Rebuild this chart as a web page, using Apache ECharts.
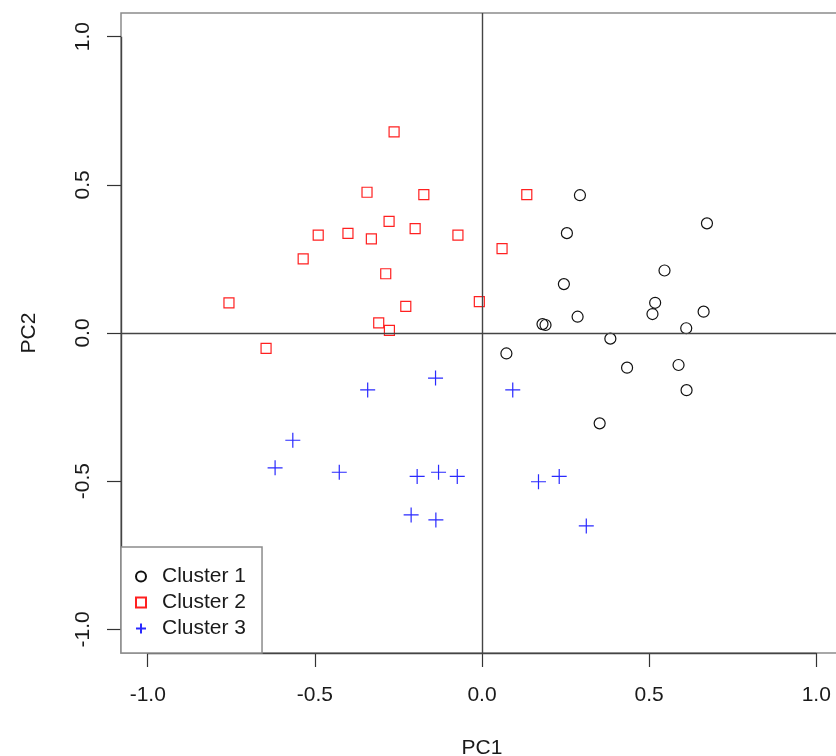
<!DOCTYPE html>
<html>
<head>
<meta charset="utf-8">
<script src="https://cdn.jsdelivr.net/npm/echarts@6/dist/echarts.min.js"></script>
<style>
html,body{margin:0;padding:0;background:#fff;}
#chart{width:836px;height:756px;}
</style>
</head>
<body>
<div id="chart"></div>
<script>
// Data
const cluster1 = [
  [0.293, 0.465], [0.673, 0.370], [0.254, 0.337], [0.546, 0.211], [0.245, 0.165],
  [0.518, 0.102], [0.510, 0.064], [0.663, 0.072], [0.286, 0.055], [0.181, 0.030],
  [0.190, 0.027], [0.611, 0.016], [0.384, -0.019], [0.073, -0.069], [0.434, -0.117],
  [0.588, -0.108], [0.612, -0.193], [0.352, -0.305]
];
const cluster2 = [
  [-0.263, 0.679], [-0.344, 0.475], [-0.174, 0.467], [0.134, 0.467], [-0.278, 0.377],
  [-0.490, 0.330], [-0.401, 0.336], [-0.331, 0.318], [-0.200, 0.352], [-0.072, 0.330],
  [0.060, 0.285], [-0.535, 0.250], [-0.288, 0.200], [-0.757, 0.102], [-0.228, 0.090],
  [-0.008, 0.106], [-0.309, 0.034], [-0.277, 0.009], [-0.646, -0.052]
];
const cluster3 = [
  [-0.139, -0.152], [-0.342, -0.192], [0.092, -0.192], [-0.566, -0.362], [-0.619, -0.455],
  [-0.427, -0.470], [-0.194, -0.484], [-0.130, -0.470], [-0.074, -0.484], [0.169, -0.502],
  [0.231, -0.484], [-0.212, -0.614], [-0.138, -0.631], [0.312, -0.651]
];
const seriesNames = ['Cluster 1', 'Cluster 2', 'Cluster 3'];
const xTicks = [-1.0, -0.5, 0.0, 0.5, 1.0];
const yTicks = [-1.0, -0.5, 0.0, 0.5, 1.0];
const axisMin = -1.08, axisMax = 1.08;
const xName = 'PC1', yName = 'PC2';

const FONT = '"Liberation Sans", Arial, Helvetica, sans-serif';
const TXT = '#1a1a1a';
const chart = echarts.init(document.getElementById('chart'), null, {renderer: 'canvas'});

function axisCommon(ticks, name, isY) {
  return {
    type: 'value',
    min: axisMin,
    max: axisMax,
    name: name,
    nameLocation: 'middle',
    nameGap: isY ? 81 : 85,
    nameRotate: isY ? 90 : 0,
    nameTextStyle: {fontFamily: FONT, fontSize: 21, color: TXT, verticalAlign: isY ? 'bottom' : 'top'},
    axisLine: {show: false, onZero: false},
    splitLine: {show: false},
    axisTick: {show: true, length: 14, customValues: ticks, lineStyle: {color: '#333', width: 1.2}},
    axisLabel: {
      show: true, customValues: ticks, margin: isY ? 27 : 32, rotate: isY ? 90 : 0,
      fontFamily: FONT, fontSize: 21, color: TXT,
      formatter: v => Number(v).toFixed(1)
    }
  };
}

const option = {
  backgroundColor: '#fff',
  animation: false,
  grid: {
    left: 121, top: 13, width: 722, height: 640,
    outerBoundsMode: 'none',
    containLabel: false,
    show: true, borderColor: '#8c8c8c', borderWidth: 1.5, backgroundColor: 'transparent'
  },
  xAxis: axisCommon(xTicks, xName, false),
  yAxis: axisCommon(yTicks, yName, true),
  legend: {
    data: seriesNames,
    orient: 'vertical',
    left: 121, top: 547,
    padding: [19, 16, 14, 14],
    itemGap: 5,
    itemWidth: 10, itemHeight: 10,
    backgroundColor: '#fff',
    borderColor: '#8c8c8c', borderWidth: 1.5, borderRadius: 0,
    textStyle: {fontFamily: FONT, fontSize: 21, color: TXT, padding: [0, 0, 0, 11]},
    z: 10
  },
  series: [
    {
      type: 'scatter',
      name: '_ref',
      data: [],
      silent: true,
      clip: false,
      z: 1,
      markLine: {
        silent: true,
        symbol: ['none', 'none'],
        label: {show: false},
        lineStyle: {color: '#444', width: 1.4, type: 'solid'},
        data: [
          {xAxis: 0},
          {yAxis: 0},
          [{coord: [xTicks[0], axisMin]}, {coord: [xTicks[xTicks.length - 1], axisMin]}],
          [{coord: [axisMin, yTicks[0]]}, {coord: [axisMin, yTicks[yTicks.length - 1]]}]
        ]
      }
    },
    {
      type: 'scatter',
      name: seriesNames[0],
      data: cluster1,
      symbol: 'circle',
      symbolSize: 11,
      z: 3,
      itemStyle: {color: 'transparent', borderColor: '#111', borderWidth: 1.2, opacity: 1}
    },
    {
      type: 'scatter',
      name: seriesNames[1],
      data: cluster2,
      symbol: 'rect',
      symbolSize: 10,
      z: 3,
      itemStyle: {color: 'transparent', borderColor: '#ff2020', borderWidth: 1.2, opacity: 1}
    },
    {
      type: 'scatter',
      name: seriesNames[2],
      data: cluster3,
      symbol: 'path://M0,5L10,5M5,0L5,10',
      symbolSize: 15,
      z: 3,
      itemStyle: {color: 'transparent', borderColor: '#2a2aff', borderWidth: 1.2, opacity: 1}
    }
  ]
};
chart.setOption(option);
</script>
</body>
</html>
